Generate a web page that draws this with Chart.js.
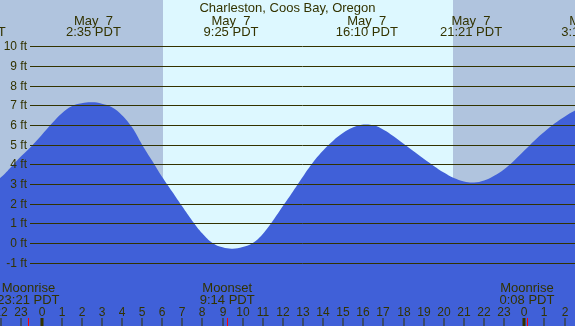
<!DOCTYPE html>
<html>
<head>
<meta charset="utf-8">
<script src="https://cdn.jsdelivr.net/npm/chart.js@4/dist/chart.umd.min.js"></script>
<style>
html,body{margin:0;padding:0;background:#fff;}
canvas{display:block;}
</style>
</head>
<body>
<canvas id="c" width="575" height="326"></canvas>
<script>
const chartTitle = "Charleston, Coos Bay, Oregon";
const tideHours = [-4, -3.5, -3, -2.5, -2, -1.5, -1, -0.5, 0, 0.5, 1, 1.5, 2, 2.5, 3, 3.5, 4, 4.5, 5, 5.5, 6, 6.5, 7, 7.5, 8, 8.5, 9, 9.5, 10, 10.5, 11, 11.5, 12, 12.5, 13, 13.5, 14, 14.5, 15, 15.5, 16, 16.5, 17, 17.5, 18, 18.5, 19, 19.5, 20, 20.5, 21, 21.5, 22, 22.5, 23, 23.5, 24, 24.5, 25, 25.5, 26, 26.5, 27, 27.5];
const tideFeet  = [2.8, 2.75, 2.8, 3.0, 3.35, 3.88, 4.42, 4.92, 5.48, 6.06, 6.58, 6.95, 7.1, 7.15, 7.08, 6.9, 6.5, 5.88, 5.0, 4.18, 3.35, 2.6, 1.85, 1.12, 0.48, 0.0, -0.22, -0.29, -0.2, 0.0, 0.46, 1.13, 1.88, 2.62, 3.38, 4.1, 4.7, 5.2, 5.6, 5.88, 6.02, 5.98, 5.76, 5.43, 5.05, 4.66, 4.28, 3.92, 3.58, 3.3, 3.13, 3.08, 3.18, 3.42, 3.75, 4.2, 4.7, 5.2, 5.65, 6.07, 6.42, 6.72, 6.92, 7.02];
// tide extreme labels
const eventHours = [-3.32, 2.58, 9.42, 16.17, 21.35, 27.2];
const eventDates = ["May  6", "May  7", "May  7", "May  7", "May  7", "May  8"];
const eventTimes = ["20:41 PDT", "2:35 PDT", "9:25 PDT", "16:10 PDT", "21:21 PDT", "3:12 PDT"];
// moon events
const moonHours = [-0.65, 9.233, 24.133];
const moonNames = ["Moonrise", "Moonset", "Moonrise"];
const moonTimes = ["23:21 PDT", "9:14 PDT", "0:08 PDT"];
// sun
const sunriseHour = 6.03;
const sunsetHour = 20.45;
// axis ticks
const yTicks = [-1, 0, 1, 2, 3, 4, 5, 6, 7, 8, 9, 10];
const hourTicks = [-3, -2, -1, 0, 1, 2, 3, 4, 5, 6, 7, 8, 9, 10, 11, 12, 13, 14, 15, 16, 17, 18, 19, 20, 21, 22, 23, 24, 25, 26, 27];

const TXT = '#333300';
const FONT13 = '13px "Liberation Sans", Arial, sans-serif';
const FONT12 = '12px "Liberation Sans", Arial, sans-serif';

const decor = {
  id: 'decor',
  beforeDatasetsDraw(chart) {
    const ctx = chart.ctx, x = chart.scales.x, a = chart.chartArea;
    ctx.save();
    ctx.fillStyle = '#b0c4de';
    ctx.fillRect(a.left, a.top, a.right - a.left, a.bottom - a.top);
    const sx = Math.round(x.getPixelForValue(sunriseHour));
    const ex = Math.round(x.getPixelForValue(sunsetHour));
    ctx.fillStyle = '#ddf8ff';
    ctx.fillRect(sx, a.top, ex - sx, a.bottom - a.top);
    ctx.restore();
  },
  afterDatasetsDraw(chart) {
    const ctx = chart.ctx, x = chart.scales.x, y = chart.scales.y, a = chart.chartArea;
    ctx.save();
    ctx.strokeStyle = TXT;
    ctx.lineWidth = 1;
    ctx.fillStyle = TXT;
    ctx.font = FONT12;
    ctx.textAlign = 'right';
    ctx.textBaseline = 'middle';
    yTicks.forEach(v => {
      const py = Math.round(y.getPixelForValue(v)) + 0.5;
      ctx.beginPath();
      ctx.moveTo(30, py);
      ctx.lineTo(a.right, py);
      ctx.stroke();
      ctx.fillText(v + ' ft', 27, py);
    });
    ctx.textAlign = 'center';
    ctx.textBaseline = 'alphabetic';
    ctx.font = FONT13;
    ctx.fillText(chartTitle, (a.left + a.right) / 2, 12);
    eventHours.forEach((h, i) => {
      const px = x.getPixelForValue(h);
      ctx.fillText(eventDates[i], px, 24.5);
      ctx.fillText(eventTimes[i], px, 36);
    });
    moonHours.forEach((h, i) => {
      const px = x.getPixelForValue(h);
      ctx.fillText(moonNames[i], px, 291.5);
      ctx.fillText(moonTimes[i], px, 303.5);
    });
    ctx.font = FONT12;
    hourTicks.forEach(h => {
      const px = Math.round(x.getPixelForValue(h));
      const lab = String(((h % 24) + 24) % 24);
      ctx.fillText(lab, px, 316);
      if (lab === '0') {
        ctx.fillRect(px - 1.5, 318, 3, 8);
      } else {
        ctx.fillRect(px - 0.5, 318, 1, 8);
      }
    });
    ctx.fillStyle = '#ff0000';
    moonHours.forEach(h => {
      const px = Math.round(x.getPixelForValue(h));
      ctx.fillRect(px, 318, 1, 8);
    });
    ctx.restore();
  }
};

new Chart(document.getElementById('c'), {
  type: 'line',
  data: {
    datasets: [{
      data: tideHours.map((h, i) => ({x: h, y: tideFeet[i]})),
      fill: 'start',
      backgroundColor: '#4060d8',
      borderColor: 'rgba(0,0,0,0)',
      borderWidth: 0,
      pointRadius: 0,
      tension: 0.4
    }]
  },
  options: {
    responsive: false,
    animation: false,
    devicePixelRatio: 1,
    layout: {padding: 0},
    plugins: {legend: {display: false}, tooltip: {enabled: false}, title: {display: false}},
    scales: {
      x: {type: 'linear', min: -2.063, max: 26.52, display: false},
      y: {type: 'linear', min: -4.22, max: 12.354, display: false}
    }
  },
  plugins: [decor]
});
</script>
</body>
</html>
